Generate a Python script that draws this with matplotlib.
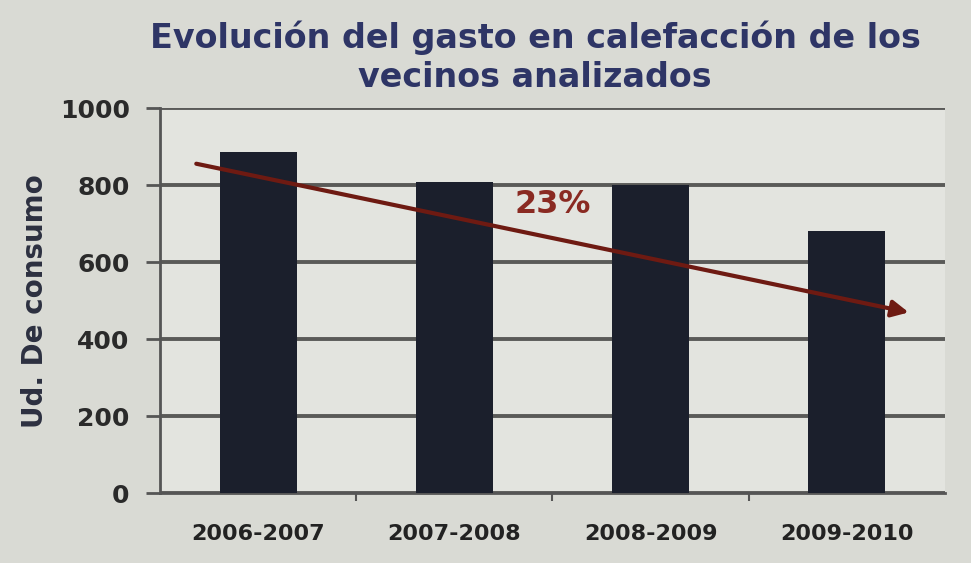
import matplotlib
matplotlib.use('Agg')
import matplotlib.pyplot as plt

periods = ['2006-2007', '2007-2008', '2008-2009', '2009-2010']
consumo = [886, 808, 800, 680]
trend_start = (-0.33, 857)
trend_end = (3.33, 468)
trend_label = '23%'

fig = plt.figure(figsize=(9.71, 5.63), dpi=100)
fig.patch.set_facecolor('#d9dad4')
ax = fig.add_axes([0.165, 0.124, 0.808, 0.684])
ax.set_facecolor('#e3e4df')

x = range(len(periods))
ax.bar(x, consumo, width=0.39, color='#1b1f2c', zorder=3)

ax.set_ylim(0, 1000)
ax.set_xlim(-0.5, 3.5)
ax.set_yticks(range(0, 1001, 200))
ax.yaxis.grid(True, color='#5a5a58', linewidth=2.8, zorder=1)
ax.set_axisbelow(True)

ax.set_xticks(x)
ax.set_xticklabels(periods, fontsize=16, fontweight='bold', color='#222222')
ax.set_xticks([0.5, 1.5, 2.5], minor=True)
ax.tick_params(axis='x', which='major', length=0, pad=22)
ax.tick_params(axis='x', which='minor', length=6, width=1.5, color='#555555')
ax.tick_params(axis='y', length=10, width=2, color='#555555', labelsize=18,
               labelcolor='#2a2a2a', pad=12)
for lbl in ax.get_yticklabels():
    lbl.set_fontweight('bold')

for side in ['top', 'right']:
    ax.spines[side].set_visible(False)
for side in ['left', 'bottom']:
    ax.spines[side].set_color('#555555')
    ax.spines[side].set_linewidth(2)

ax.set_ylabel('Ud. De consumo', fontsize=20, fontweight='bold', color='#2c3040',
              labelpad=8)

ax.annotate('', xy=trend_end, xytext=trend_start,
            arrowprops=dict(arrowstyle='-|>,head_length=1.0,head_width=0.5',
                            color='#6e1a12', lw=3),
            zorder=5)
ax.text(1.5, 750, trend_label, fontsize=23, fontweight='bold', color='#8a2a22',
        ha='center', va='center', zorder=6)

fig.text(0.551, 0.898, 'Evolución del gasto en calefacción de los\nvecinos analizados',
         ha='center', va='center', fontsize=24, fontweight='bold', color='#2e3566',
         linespacing=1.25)

fig.savefig('out.png', dpi=100, facecolor=fig.get_facecolor())
